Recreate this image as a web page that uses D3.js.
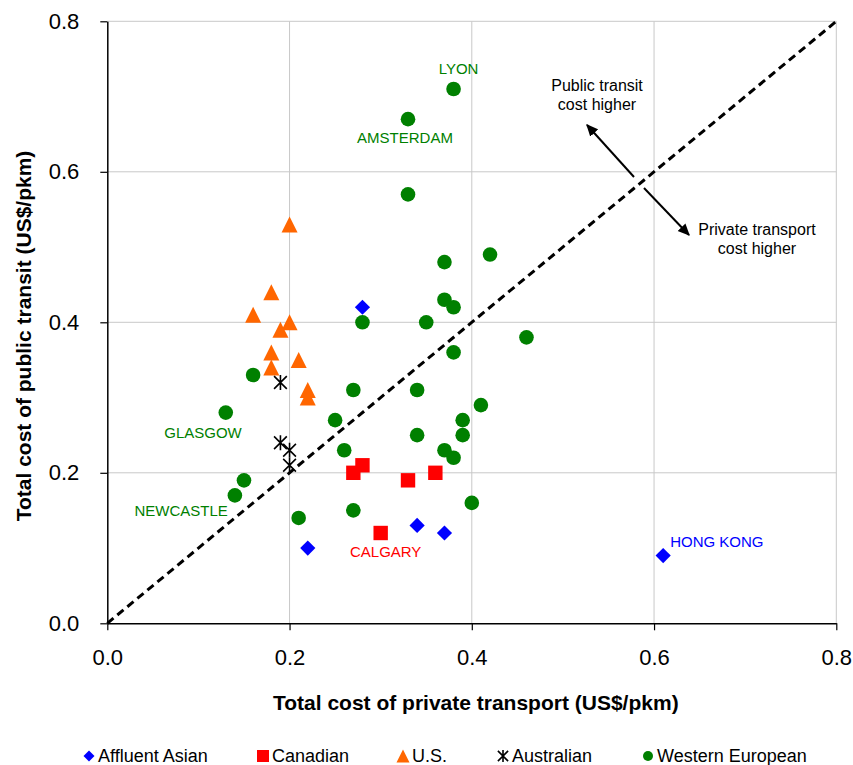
<!DOCTYPE html>
<html>
<head>
<meta charset="utf-8">
<script src="https://cdn.jsdelivr.net/npm/d3@7"></script>
<style>
  html, body { margin: 0; padding: 0; background: #fff; }
  svg { display: block; }
  text { font-family: Arial, "Liberation Sans", sans-serif; }
</style>
</head>
<body>
<svg id="chart" width="853" height="765"></svg>
<script>
// ---------- DATA ----------
const categories = ["Affluent Asian", "Canadian", "U.S.", "Australian", "Western European"];
const colors = ["#0000FF", "#FF0000", "#FF6600", "#000000", "#008000"];

const affluentAsian = [[0.28, 0.42], [0.22, 0.10], [0.34, 0.13], [0.37, 0.12], [0.61, 0.09]];
const canadian = [[0.27, 0.20], [0.28, 0.21], [0.33, 0.19], [0.36, 0.20], [0.30, 0.12]];
const us = [[0.20, 0.53], [0.18, 0.44], [0.16, 0.41], [0.20, 0.40], [0.19, 0.39],
            [0.18, 0.36], [0.18, 0.34], [0.21, 0.35], [0.22, 0.31], [0.22, 0.30]];
const australian = [[0.19, 0.32], [0.19, 0.24], [0.20, 0.23], [0.20, 0.21]];
const westernEuropean = [[0.38, 0.71], [0.33, 0.67], [0.33, 0.57], [0.37, 0.48], [0.42, 0.49],
  [0.37, 0.43], [0.38, 0.42], [0.28, 0.40], [0.35, 0.40], [0.46, 0.38], [0.38, 0.36],
  [0.16, 0.33], [0.27, 0.31], [0.34, 0.31], [0.41, 0.29], [0.13, 0.28], [0.25, 0.27],
  [0.39, 0.27], [0.34, 0.25], [0.39, 0.25], [0.26, 0.23], [0.37, 0.23], [0.38, 0.22],
  [0.15, 0.19], [0.14, 0.17], [0.40, 0.16], [0.27, 0.15], [0.21, 0.14]];

const seriesData = [affluentAsian, canadian, us, australian, westernEuropean];

const tickValues = [0, 0.2, 0.4, 0.6, 0.8];
const xTitle = "Total cost of private transport (US$/pkm)";
const yTitle = "Total cost of public transit (US$/pkm)";

const cityNames = ["LYON", "AMSTERDAM", "GLASGOW", "NEWCASTLE", "CALGARY", "HONG KONG"];
const citySeries = [4, 4, 4, 4, 1, 0];
const cityPoints = [[0.38, 0.71], [0.33, 0.67], [0.13, 0.28], [0.14, 0.17], [0.30, 0.12], [0.61, 0.09]];

const noteUpper = ["Public transit", "cost higher"];
const noteLower = ["Private transport", "cost higher"];

// ---------- LAYOUT ----------
const W = 853, H = 765;
const margin = { left: 107.3, right: 16.7, top: 21.3, bottom: 141.7 };
const svg = d3.select("#chart");

const x = d3.scaleLinear().domain([0, 0.8]).range([margin.left, W - margin.right]);
const y = d3.scaleLinear().domain([0, 0.8]).range([H - margin.bottom, margin.top]);

// defs: arrowhead
svg.append("defs").append("marker")
  .attr("id", "arrow").attr("viewBox", "0 0 10 10")
  .attr("refX", 9).attr("refY", 5)
  .attr("markerWidth", 6).attr("markerHeight", 6)
  .attr("markerUnits", "strokeWidth")
  .attr("orient", "auto")
  .append("path").attr("d", "M0,0.5 L10,5 L0,9.5 Z").attr("fill", "#000");

// grid
const grid = svg.append("g");
grid.selectAll("line.gx").data(tickValues.filter(d => d > 0)).join("line")
  .attr("x1", d => x(d)).attr("x2", d => x(d))
  .attr("y1", y(0)).attr("y2", y(0.8))
  .attr("stroke", "#c8c8c8").attr("stroke-width", 1);
grid.selectAll("line.gy").data(tickValues.filter(d => d > 0)).join("line")
  .attr("x1", x(0)).attr("x2", x(0.8))
  .attr("y1", d => y(d)).attr("y2", d => y(d))
  .attr("stroke", "#c8c8c8").attr("stroke-width", 1);

// axes
const xAxis = svg.append("g").attr("transform", `translate(0,${y(0)})`)
  .call(d3.axisBottom(x).tickValues(tickValues).tickFormat(d3.format(".1f"))
    .tickSize(7).tickPadding(19).tickSizeOuter(0));
const yAxis = svg.append("g").attr("transform", `translate(${x(0)},0)`)
  .call(d3.axisLeft(y).tickValues(tickValues).tickFormat(d3.format(".1f"))
    .tickSize(7).tickPadding(21).tickSizeOuter(0));
[xAxis, yAxis].forEach(a => {
  a.select(".domain").attr("stroke", "#000").attr("stroke-width", 1.5);
  a.selectAll(".tick line").attr("stroke", "#000").attr("stroke-width", 1.2);
  a.selectAll(".tick text").attr("font-size", 22).attr("fill", "#000")
    .attr("font-family", "Arial, 'Liberation Sans', sans-serif");
});

// parity line
svg.append("line")
  .attr("x1", x(0)).attr("y1", y(0)).attr("x2", x(0.8)).attr("y2", y(0.8))
  .attr("stroke", "#000").attr("stroke-width", 3).attr("stroke-dasharray", "8,5");

// markers
const diamond = s => `M0,${-s} L${s},0 L0,${s} L${-s},0 Z`;
const square = s => `M${-s},${-s} H${s} V${s} H${-s} Z`;
const triangle = s => `M0,${-s} L${s},${s} L${-s},${s} Z`;
const star = s => `M${-s * 0.85},${-s * 0.85} L${s * 0.85},${s * 0.85} M${s * 0.85},${-s * 0.85} L${-s * 0.85},${s * 0.85} M0,${-s} V${s}`;

function drawMarker(g, type, size, color) {
  if (type === 0) g.append("path").attr("d", diamond(size)).attr("fill", color);
  else if (type === 1) g.append("path").attr("d", square(size)).attr("fill", color);
  else if (type === 2) g.append("path").attr("d", triangle(size)).attr("fill", color);
  else if (type === 3) g.append("path").attr("d", star(size)).attr("fill", "none")
    .attr("stroke", color).attr("stroke-width", 1.6);
  else g.append("circle").attr("r", size).attr("fill", color);
}
const plotSizes = [7.6, 7.2, 8, 7.5, 7.3];

seriesData.forEach((pts, si) => {
  const g = svg.append("g");
  pts.forEach(p => {
    const m = g.append("g").attr("transform", `translate(${x(p[0])},${y(p[1])})`);
    drawMarker(m, si, plotSizes[si], colors[si]);
  });
});

// city labels
const labelOffsets = [[5, -15, "middle"], [-3, 24, "middle"], [16, 25, "end"],
                      [-7, 21, "end"], [5, 24, "middle"], [7, -9, "start"]];
cityNames.forEach((name, i) => {
  const p = cityPoints[i];
  const o = labelOffsets[i];
  svg.append("text")
    .attr("x", x(p[0]) + o[0]).attr("y", y(p[1]) + o[1])
    .attr("text-anchor", o[2]).attr("font-size", 15)
    .attr("fill", colors[citySeries[i]]).text(name);
});

// annotations
const noteG = svg.append("g").attr("font-size", 16).attr("fill", "#000").attr("text-anchor", "middle");
noteUpper.forEach((t, i) => noteG.append("text").attr("x", 597).attr("y", 91 + i * 19).text(t));
noteLower.forEach((t, i) => noteG.append("text").attr("x", 757).attr("y", 235 + i * 19).text(t));
svg.append("line").attr("x1", 634).attr("y1", 177).attr("x2", 587).attr("y2", 125)
  .attr("stroke", "#000").attr("stroke-width", 2).attr("marker-end", "url(#arrow)");
svg.append("line").attr("x1", 644).attr("y1", 188).attr("x2", 689).attr("y2", 235)
  .attr("stroke", "#000").attr("stroke-width", 2).attr("marker-end", "url(#arrow)");

// axis titles
svg.append("text").attr("x", (x(0) + x(0.8)) / 2 + 4).attr("y", 710)
  .attr("text-anchor", "middle").attr("font-size", 21).attr("font-weight", "bold").text(xTitle);
svg.append("text").attr("transform", "translate(31,336) rotate(-90)")
  .attr("text-anchor", "middle").attr("font-size", 21).attr("font-weight", "bold").text(yTitle);

// legend
const legendX = [89, 263, 403, 503, 648];
const legendSizes = [5.5, 6, 6.5, 6, 5];
const legend = svg.append("g");
categories.forEach((c, i) => {
  const m = legend.append("g").attr("transform", `translate(${legendX[i]},756)`);
  drawMarker(m, i, legendSizes[i], colors[i]);
  legend.append("text").attr("x", legendX[i] + 9).attr("y", 762)
    .attr("font-size", 18).attr("fill", "#000").text(c);
});
</script>
</body>
</html>
